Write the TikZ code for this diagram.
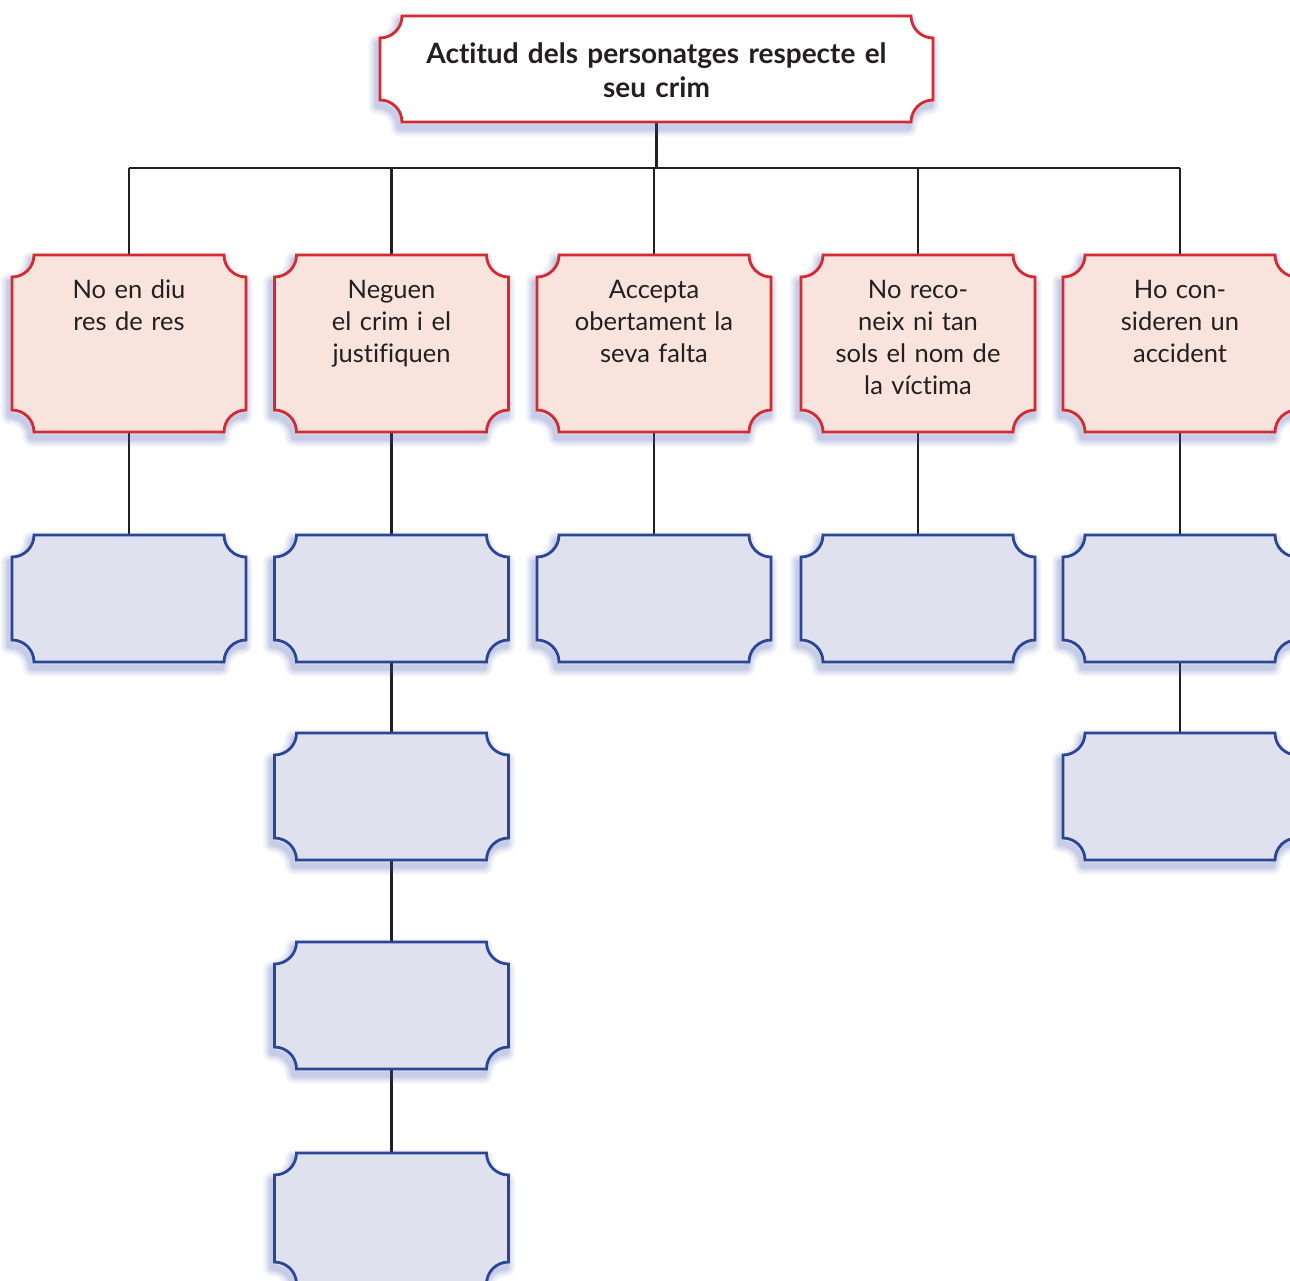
\documentclass[tikz,border=0pt]{standalone}
\usepackage{fontspec}
\setmainfont{Lato}[Ligatures={NoCommon}]
\usetikzlibrary{calc}
\definecolor{redline}{HTML}{D42A32}
\definecolor{redfill}{HTML}{F8E4DC}
\definecolor{blueline}{HTML}{2C4697}
\definecolor{bluefill}{HTML}{DFE1EE}
\definecolor{shadowblue}{HTML}{3F52A8}
\definecolor{conn}{HTML}{231F20}
\newcommand{\tktp}[2]{([xshift=#2]#1.north west) -- ([xshift=-#2]#1.north east) arc[start angle=180,end angle=270,radius=#2] -- ([yshift=#2]#1.south east) arc[start angle=90,end angle=180,radius=#2] -- ([xshift=#2]#1.south west) arc[start angle=0,end angle=90,radius=#2] -- ([yshift=-#2]#1.north west) arc[start angle=270,end angle=360,radius=#2] -- cycle}
\newcommand{\tktshape}[3]{%
  \foreach \w/\o in {18/0.06,14/0.07,10/0.09,6/0.11}{%
    \draw[transform canvas={shift={(-2.5pt,-5.5pt)}}, line width=\w pt, draw=shadowblue, opacity=\o, line join=round] \tktp{#1}{22pt};
  }%
  \draw[line width=2.8pt, draw=#2, fill=#3] \tktp{#1}{22pt};
}
\tikzset{
  box/.style={minimum width=234pt, inner sep=0pt, outer sep=0pt},
  redbox/.style={box, minimum height=177pt},
  bluebox/.style={box, minimum height=127pt},
  txt/.style={text width=230pt, align=center, font=\fontsize{25.5}{32}\selectfont, text=conn, anchor=base, inner sep=0pt},
  conline/.style={draw=conn, line width=2.4pt},
}
\begin{document}
\begin{tikzpicture}[x=1pt,y=1pt]
\useasboundingbox (0,0) rectangle (1290,-1280);
% nodes (geometry only)
\node[inner sep=0pt, outer sep=0pt, minimum width=553pt, minimum height=106pt] (title) at (656.5,-69) {};
\node[redbox] (r1) at (129,-343.5) {};
\node[redbox] (r2) at (391.5,-343.5) {};
\node[redbox] (r3) at (654,-343.5) {};
\node[redbox] (r4) at (918,-343.5) {};
\node[redbox] (r5) at (1180,-343.5) {};
\node[bluebox] (b1) at (129,-598.5) {};
\node[bluebox] (b2) at (391.5,-598.5) {};
\node[bluebox] (b3) at (654,-598.5) {};
\node[bluebox] (b4) at (918,-598.5) {};
\node[bluebox] (b5) at (1180,-598.5) {};
\node[bluebox] (c2) at (391.5,-796.5) {};
\node[bluebox] (c5) at (1180,-796.5) {};
\node[bluebox] (d2) at (391.5,-1005.5) {};
\node[bluebox, minimum height=131pt] (e2) at (391.5,-1218.5) {};
% connectors
\coordinate (bus) at (0,-168);
\draw[conline] (title.south) -- (title.south |- bus);
\draw[conline] (r1.north |- bus) -- (r5.north |- bus);
\foreach \n in {r1,r2,r3,r4,r5}{
  \draw[conline] (\n.north |- bus) -- (\n.north);
}
\foreach \a/\b in {r1/b1,r2/b2,r3/b3,r4/b4,r5/b5,b2/c2,c2/d2,d2/e2,b5/c5}{
  \draw[conline] (\a.south) -- (\b.north);
}
% shapes
\tktshape{title}{redline}{white}
\foreach \n in {r1,r2,r3,r4,r5}{\tktshape{\n}{redline}{redfill}}
\foreach \n in {b1,b2,b3,b4,b5,c2,c5,d2,e2}{\tktshape{\n}{blueline}{bluefill}}
% texts
\node[txt, text width=540pt, font=\bfseries\fontsize{28}{34.5}\selectfont] (tt) at ($(title.north)+(0,-47)$) {Actitud dels personatges respecte el\\seu crim};
\node[txt] (t1) at ($(r1.north)+(0,-43)$) {No en diu\\res de res};
\node[txt] (t2) at ($(r2.north)+(0,-43)$) {Neguen\\el crim i el\\justifiquen};
\node[txt] (t3) at ($(r3.north)+(0,-43)$) {Accepta\\obertament la\\seva falta};
\node[txt] (t4) at ($(r4.north)+(0,-43)$) {No reco-\\neix ni tan\\sols el nom de\\la víctima};
\node[txt] (t5) at ($(r5.north)+(0,-43)$) {Ho con-\\sideren un\\accident};
\end{tikzpicture}
\end{document}
